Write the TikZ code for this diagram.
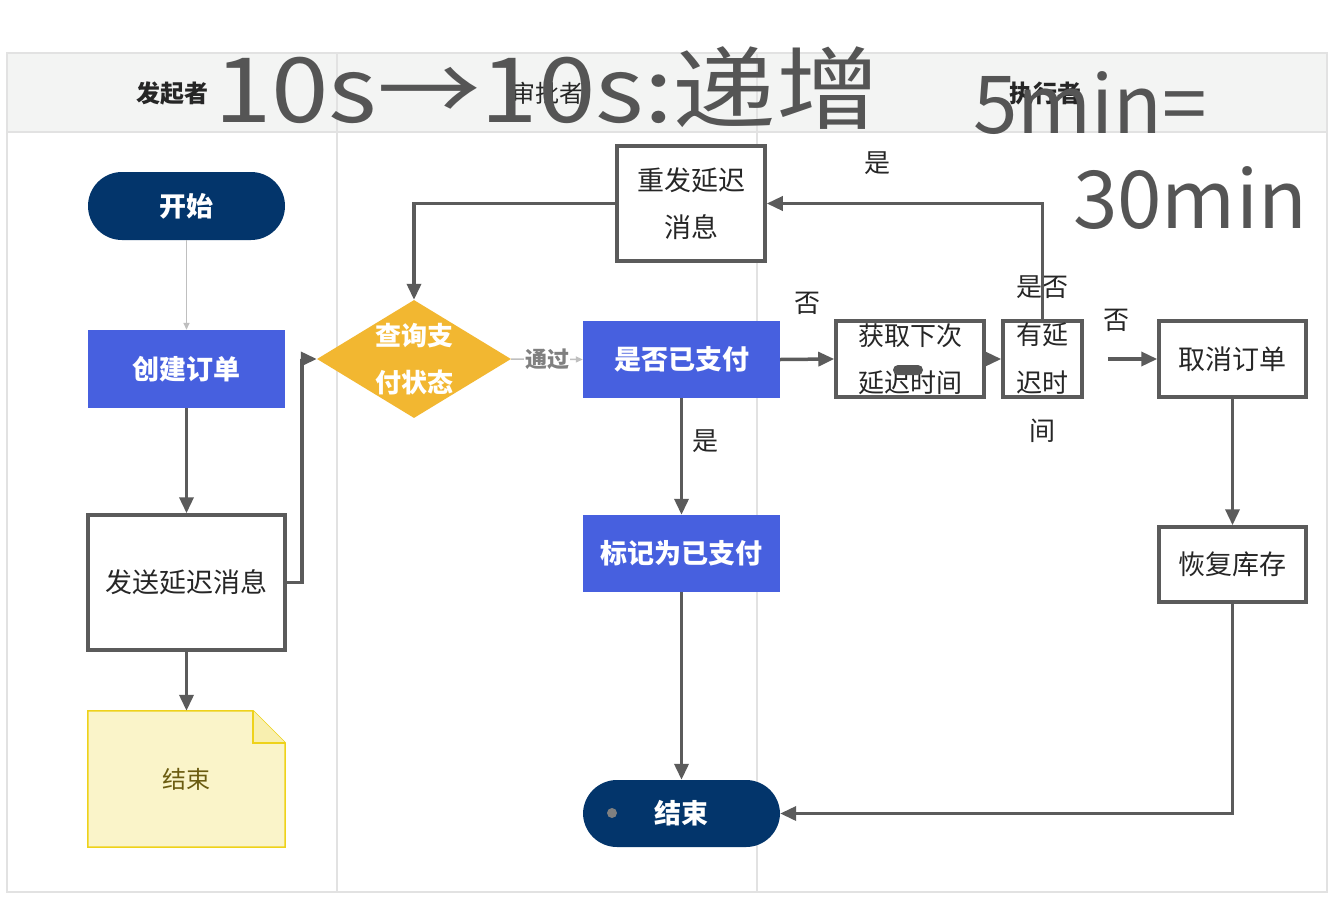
\documentclass[tikz,border=0pt]{standalone}
\usepackage{fontspec}
\setmainfont{Noto Sans CJK SC}
\usetikzlibrary{shapes.geometric,arrows.meta,calc}
\definecolor{navy}{HTML}{03356B}
\definecolor{royal}{HTML}{4760DF}
\definecolor{amber}{HTML}{F2B731}
\definecolor{stroke}{HTML}{5B5B5B}
\definecolor{headfill}{HTML}{F3F4F3}
\definecolor{laneline}{HTML}{E2E2E2}
\definecolor{notefill}{HTML}{FAF4C9}
\definecolor{notedraw}{HTML}{EED21A}
\definecolor{notetext}{HTML}{6B5C10}
\definecolor{inkgray}{HTML}{555555}
\tikzset{
  pill/.style={rectangle, rounded corners=34pt, fill=navy, text=white, minimum width=197pt, minimum height=68pt, font=\fontsize{27}{47}\selectfont\bfseries},
  bluebox/.style={rectangle, fill=royal, text=white, minimum width=197pt, minimum height=78pt, font=\fontsize{27}{47}\selectfont\bfseries},
  wbox/.style={rectangle, draw=stroke, line width=3.5pt, fill=white, text=black!85, font=\fontsize{27}{47}\selectfont, align=center, inner sep=0pt},
  arr/.style={draw=stroke, line width=3.5pt, -{Triangle[length=16pt,width=14pt]}},
  thinarr/.style={draw=black!25, line width=1.5pt, -{Triangle[length=7pt,width=6pt]}},
  lbl/.style={text=black!85, font=\fontsize{26}{30}\selectfont},
  hdr/.style={text=black!85, font=\fontsize{24}{28}\selectfont},
  ink/.style={text=inkgray, font=\fontsize{90}{90}\selectfont}
}
\begin{document}
\begin{tikzpicture}[x=1pt,y=-1pt]
\useasboundingbox (0,0) rectangle (1338,897);
\fill[white] (0,0) rectangle (1338,897);
% lanes
\fill[headfill] (7,53) rectangle (1327,132);
\draw[laneline, line width=1.2pt] (7,53) rectangle (1327,892);
\draw[laneline, line width=1.2pt] (7,132) -- (1327,132);
\draw[laneline, line width=1.2pt] (337,53) -- (337,892);
\draw[laneline, line width=1.2pt] (757,53) -- (757,892);
\node[hdr, font=\fontsize{24}{28}\selectfont\bfseries] (h1) at (172,93) {发起者};
\node[hdr] (h2) at (547,93) {审批者};
\node[hdr, font=\fontsize{24}{28}\selectfont\bfseries] (h3) at (1045,93) {执行者};

% nodes
\node[pill] (start) at (186.5,206) {开始};
\node[bluebox] (create) at (186.5,369) {创建订单};
\node[wbox, minimum width=197pt, minimum height=135pt] (send) at (186.5,582.5) {发送延迟消息};
\node[minimum width=197pt, minimum height=136pt] (note) at (186.5,779) {};
\draw[notedraw, fill=notefill, line width=1.5pt] (note.north west) -- ($(note.north east)+(-32,0)$) -- ($(note.north east)+(0,32)$) -- (note.south east) -- (note.south west) -- cycle;
\draw[notedraw, fill=notefill!85!notedraw, line width=1.5pt] ($(note.north east)+(-32,0)$) -- ($(note.north east)+(-32,32)$) -- ($(note.north east)+(0,32)$);
\node[text=notetext, font=\fontsize{24}{28}\selectfont] (notetxt) at (note.center) {结束};

\node[diamond, fill=amber, minimum width=194pt, minimum height=118pt, inner sep=0pt] (diam) at (414,359) {};
\node[text=white, font=\fontsize{26}{47}\selectfont\bfseries, align=center] (diamtxt) at (414,359) {查询支\\付状态};

\node[bluebox, minimum height=77pt] (pay) at (681.5,359.5) {是否已支付};
\node[bluebox, minimum height=77pt] (mark) at (681.5,553.5) {标记为已支付};
\node[pill, minimum height=67pt] (end) at (681.5,813.5) {结束};
\node[circle, fill=gray, inner sep=0pt, minimum size=10pt] (dot) at (612,813) {};

\node[wbox, minimum width=148pt, minimum height=115pt] (resend) at (691,203.5) {重发延迟\\消息};
\node[wbox, minimum width=148pt, minimum height=76pt, font=\fontsize{26}{47}\selectfont] (next) at (910,359) {获取下次\\延迟时间};
\node[wbox, minimum width=79pt, minimum height=76pt] (delay) at (1042.5,359) {};
\node[text=black!85, font=\fontsize{26}{48}\selectfont, align=center] (delaytxt) at (1042.5,359.5) {是否\\有延\\迟时\\间};
\node[wbox, minimum width=147pt, minimum height=76pt] (cancel) at (1232.5,359) {取消订单};
\node[wbox, minimum width=147pt, minimum height=75pt] (restore) at (1232.5,564.5) {恢复库存};

% connectors
\draw[thinarr] (start) -- (create);
\draw[arr] (create) -- (send);
\draw[arr] (send) -- (note);
\draw[arr] (send.east) -- ++(15,0) |- (diam.west);
\draw[thinarr] (diam.east) -- node[fill=white, inner sep=1pt, text=gray, font=\fontsize{22}{26}\selectfont\bfseries] (pass) {通过} (pay.west);
\draw[arr] (pay) -- node[lbl, pos=0.37, right=6pt] (yes1) {是} (mark);
\draw[arr] (mark) -- (end);
\draw[arr] (pay.east) -- node[lbl, yshift=56pt] (no1) {否} (next.west);
\draw[arr] (next.east) -- (delay.west);
\draw[arr] (delay.north) |- node[lbl, pos=0.8, yshift=40pt] (yes2) {是} (resend.east);
\draw[arr] (resend.west) -| (diam.north);
\draw[arr, shorten <=24pt] (delay.east) -- node[lbl, pos=0.45, yshift=39pt] (no2) {否} (cancel.west);
\draw[arr] (cancel) -- (restore);
\draw[arr] (restore.south) |- (end.east);

% handwritten overlay
\fill[inkgray, rounded corners=5pt] (893,365) rectangle (923,375);
\node[ink, xscale=1.15] (ink1) at (547,88) {10s→10s:递增};
\node[ink, font=\fontsize{80}{80}\selectfont] (ink2) at (1090,103) {5min=};
\node[ink, font=\fontsize{80}{80}\selectfont] (ink3) at (1190,198) {30min};
\end{tikzpicture}
\end{document}
